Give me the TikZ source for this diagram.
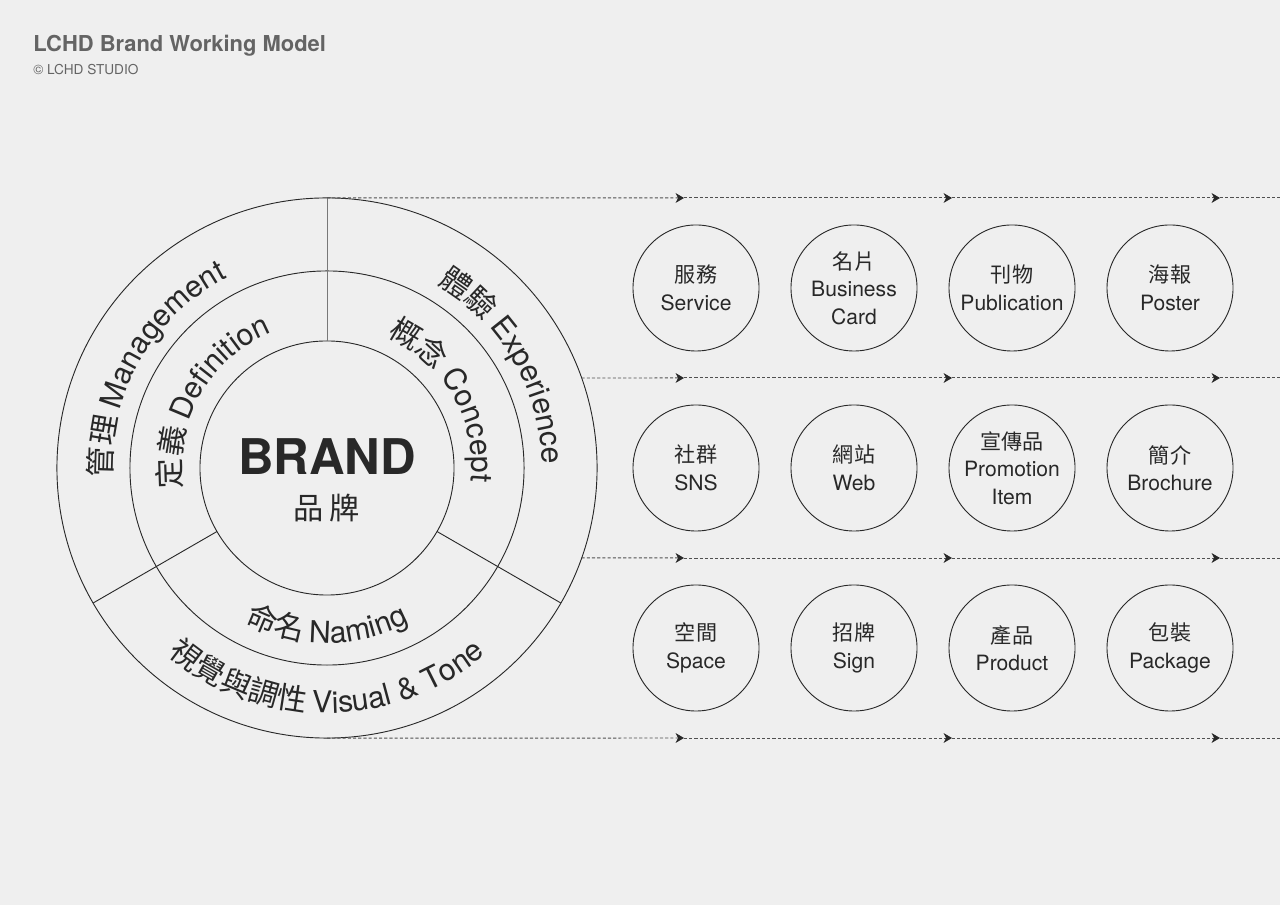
\documentclass[tikz,border=0pt]{standalone}
\usepackage{fontspec}
\setmainfont{TeX Gyre Heros}
\newfontfamily\cjk{Noto Sans CJK TC}
\usetikzlibrary{arrows.meta, decorations.text}
\definecolor{paper}{RGB}{239,239,239}
\definecolor{ink}{RGB}{40,40,40}
\definecolor{titlegray}{RGB}{100,100,100}
\definecolor{dashgray}{RGB}{80,80,80}
\definecolor{splitgray}{RGB}{120,120,120}
\newcommand\ringfont{\fontsize{21.5}{26}\selectfont\color{ink}}

\begin{document}
\begin{tikzpicture}[x=0.025cm, y=0.025cm]
    % Define styles
    \tikzset{
        ring/.style={
            draw=ink,
            line width=0.65pt,
            circle,
            inner sep=0pt,
            outer sep=0pt
        },
        item/.style={
            ring,
            minimum size=3.15cm,
            align=center,
            text=ink,
            font=\fontsize{15}{19.5}\selectfont
        },
        divider/.style={
            ink,
            line width=0.65pt
        },
        flow/.style={
            dashgray,
            line width=0.7pt,
            dash pattern=on 2.2pt off 1.5pt
        },
        tip/.style={
            -{Stealth[length=6pt, width=7pt, inset=1.8pt, color=ink]}
        },
        ringtext/.style={
            decorate,
            decoration={text along path, text align=center, text={#1}}
        }
    }

    % Canvas
    \fill[paper] (0,0) rectangle (1280,905);
    \useasboundingbox (0,0) rectangle (1280,905);

    % Title
    \node[anchor=base west, inner sep=0pt, text=titlegray, font=\bfseries\fontsize{15.6}{18}\selectfont] (title) at (33,853) {LCHD Brand Working Model};
    \node[anchor=base west, inner sep=0pt, text=titlegray, font=\fontsize{9.7}{12}\selectfont] (studio) at (33,830) {© LCHD STUDIO};

    % Brand rings
    \node[ring, minimum size=13.5cm] (outer) at (327,437) {};
    \node[ring, minimum size=9.85cm] (middle) at (outer.center) {};
    \node[ring, minimum size=6.35cm] (inner) at (outer.center) {};

    % Sector dividers
    \draw[divider, splitgray] (outer.north) -- (inner.north);
    \draw[divider] (outer.210) -- (inner.210);
    \draw[divider] (outer.330) -- (inner.330);

    % Core
    \node[anchor=base, inner sep=0pt, text=ink, font=\bfseries\fontsize{35}{40}\selectfont] (brand) at (327,430) {BRAND};
    \node[anchor=base, inner sep=0pt, text=ink, font=\cjk\fontsize{21.5}{24}\selectfont] (brandzh) at (327,385) {品\hspace{4pt}牌};

    % Ring labels
    \path[ringtext={|\ringfont\cjk|管理 |\ringfont\rmfamily|Management}]
        ([shift={(210:215)}]outer.center) arc[start angle=210, end angle=90, radius=215];
    \path[ringtext={|\ringfont\cjk|定義 |\ringfont\rmfamily|Definition}]
        ([shift={(210:146)}]outer.center) arc[start angle=210, end angle=90, radius=146];
    \path[ringtext={|\ringfont\cjk|體驗 |\ringfont\rmfamily|Experience}]
        ([shift={(90:215)}]outer.center) arc[start angle=90, end angle=-30, radius=215];
    \path[ringtext={|\ringfont\cjk|概念 |\ringfont\rmfamily|Concept}]
        ([shift={(90:145)}]outer.center) arc[start angle=90, end angle=-30, radius=145];
    \path[ringtext={|\ringfont\cjk|命名 |\ringfont\rmfamily|Naming}]
        ([shift={(210:175)}]outer.center) arc[start angle=210, end angle=330, radius=175];
    \path[ringtext={|\ringfont\cjk|視覺與調性 |\ringfont\rmfamily|Visual {\&} Tone}]
        ([shift={(210:245)}]outer.center) arc[start angle=210, end angle=330, radius=245];

    % Touchpoints
    \foreach \name/\xx/\yy/\zh/\en in {
        service/696/617/服務/Service,
        card/854/617/名片/{Business\\Card},
        publication/1012/617/刊物/Publication,
        poster/1170/617/海報/Poster,
        sns/696/437/社群/SNS,
        web/854/437/網站/Web,
        promo/1012/437/宣傳品/{Promotion\\Item},
        brochure/1170/437/簡介/Brochure,
        space/696/257/空間/Space,
        sign/854/257/招牌/Sign,
        product/1012/257/產品/Product,
        package/1170/257/包裝/Package}
        \node[item] (\name) at (\xx,\yy) {{\cjk \zh}\\\en};

    % Flow lines
    \coordinate (rb) at ([shift={(19.47:270)}]outer.center);
    \coordinate (rc) at ([shift={(-19.47:270)}]outer.center);
    \foreach \row/\yy/\start in {a/707/outer.north, b/527/rb, c/347/rc, d/167/outer.south} {
        \foreach \i/\xx in {1/684, 2/952, 3/1220, 4/1280}
            \coordinate (\row\i) at (\xx,\yy);
        \draw[flow, tip] (\start) -- (\row1);
        \draw[flow, tip] (\row1) -- (\row2);
        \draw[flow, tip] (\row2) -- (\row3);
        \draw[flow] (\row3) -- (\row4);
    }

\end{tikzpicture}
\end{document}
